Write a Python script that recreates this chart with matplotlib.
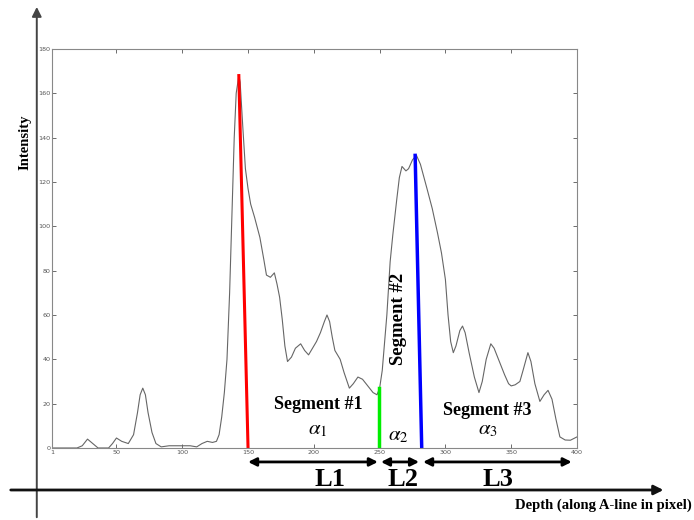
import numpy as np
import matplotlib
matplotlib.use("Agg")
import matplotlib.pyplot as plt

plt.rcParams["mathtext.fontset"] = "stix"

# A-line intensity profile
depth = [1, 10, 20, 24, 28, 32, 36, 44, 47, 50, 54, 59, 63, 66, 68, 70, 72, 74, 77, 80,
         84, 90, 100, 106, 111, 115, 119, 123, 126, 128, 130, 132, 134, 136, 138, 139.5,
         141, 143, 144, 146, 148, 150, 152, 155, 159, 162, 164, 167, 170, 172, 174, 176,
         178, 180, 183, 186, 190, 193, 196, 199, 202, 205, 208, 210, 212, 214, 216, 220,
         223, 227, 230, 233.5, 237, 241, 245, 248, 250, 252, 255.5, 258, 260, 263, 265,
         267, 270, 272, 275, 278, 281, 286, 290, 294, 297, 300, 302, 304, 306, 308, 311,
         313, 315, 318, 322, 325.5, 328, 331, 334.5, 337, 341, 345, 348, 350, 353, 356.6,
         359, 362.7, 365, 368, 371.8, 375, 378, 381, 384, 387, 391, 395, 400]
intensity = [0, 0, 0, 1, 4, 2, 0, 0, 2, 4.5, 3, 2, 6, 16, 24, 27, 24, 16, 7, 2,
             0.5, 1, 1, 1, 0.5, 2, 3, 2.5, 3, 6, 14, 25, 40, 70, 110, 140,
             160, 168, 165, 145, 126, 117, 110, 104, 95, 85, 78, 77, 79, 74, 68, 58,
             46, 39, 41, 45, 47, 44, 42, 45, 48, 52, 57, 60, 57, 50, 44, 40,
             34, 27, 29, 32, 31, 28, 25, 24, 27, 35, 60, 84, 96, 112, 122,
             127, 125, 126, 130, 132, 128, 117, 108, 97, 88, 76, 60, 48, 43, 46, 53,
             55, 52, 43, 32, 25, 30, 40, 47, 45, 39, 33, 29, 28, 28.5, 30,
             35, 43, 39, 29, 21, 24, 26, 22, 13, 5, 3.6, 3.5, 5]

# slope lines (x0, y0, x1, y1)
red_seg = [143, 168, 150, 0]
green_seg = [249.5, 0, 249.5, 27]
blue_seg = [277, 132, 282, 0]

# segment lengths below the axis
len_spans = [(150, 248.7), (251, 280), (283, 396)]
len_labels = ["L1", "L2", "L3"]
len_label_x = [212, 268, 340]

xticks = [1, 50, 100, 150, 200, 250, 300, 350, 400]
yticks = [0, 20, 40, 60, 80, 100, 120, 140, 160, 180]

serif = ["Liberation Serif", "DejaVu Serif"]

fig = plt.figure(figsize=(6.94, 5.2), dpi=100)
ax = fig.add_axes([0.0749, 0.1385, 0.7565, 0.7673])

ax.plot(depth, intensity, color="#666666", lw=0.8)
ax.plot(red_seg[0::2], red_seg[1::2], color="red", lw=2.2)
ax.plot(green_seg[0::2], green_seg[1::2], color="#00ee00", lw=2.5)
ax.plot(blue_seg[0::2], blue_seg[1::2], color="blue", lw=2.5)

ax.set_xlim(1, 400)
ax.set_ylim(0, 180)
ax.set_xticks(xticks)
ax.set_yticks(yticks)
ax.tick_params(direction="in", length=3, width=0.6, labelsize=4.6, colors="#555555",
               top=True, right=True, pad=1.2)
for s in ax.spines.values():
    s.set_color("#888888")
    s.set_linewidth(0.8)

# segment annotations
ax.text(203, 19.4, "Segment #1", fontsize=13, fontweight="bold", family=serif,
        ha="center", va="center")
ax.text(203, 8.5, r"$\alpha_1$", fontsize=15, ha="center", va="center")
ax.text(264, 58, "Segment #2", fontsize=13.5, fontweight="bold", family=serif,
        ha="center", va="center", rotation=90)
ax.text(264, 6, r"$\alpha_2$", fontsize=15, ha="center", va="center")
ax.text(332, 17, "Segment #3", fontsize=13, fontweight="bold", family=serif,
        ha="center", va="center")
ax.text(332, 8.5, r"$\alpha_3$", fontsize=15, ha="center", va="center")

# length arrows
for (a, b), lab, lx in zip(len_spans, len_labels, len_label_x):
    ax.annotate("", xy=(a, -6.3), xytext=(b, -6.3), xycoords="data",
                arrowprops=dict(arrowstyle="<|-|>", color="black", lw=2,
                                mutation_scale=12, shrinkA=0, shrinkB=0),
                annotation_clip=False)
    ax.text(lx, -14, lab, fontsize=19, fontweight="bold", family=serif,
            ha="center", va="center", clip_on=False)

# outer hand drawn axes
fig.add_artist(matplotlib.patches.FancyArrowPatch((0.0530, 0.0), (0.0530, 0.992),
               transform=fig.transFigure, arrowstyle="-|>", mutation_scale=14,
               color="#444444", lw=1.4, zorder=-1))
fig.add_artist(matplotlib.patches.FancyArrowPatch((0.0115, 0.0577), (0.96, 0.0577),
               transform=fig.transFigure, arrowstyle="-|>", mutation_scale=14,
               color="#111111", lw=2, zorder=-1))
fig.text(0.997, 0.029, "Depth (along A-line in pixel)", fontsize=10.5, fontweight="bold",
         family=serif, ha="right", va="center")
fig.text(0.036, 0.727, "Intensity", fontsize=10.5, fontweight="bold", family=serif,
         ha="center", va="center", rotation=90)

fig.savefig("out.png", dpi=100)
